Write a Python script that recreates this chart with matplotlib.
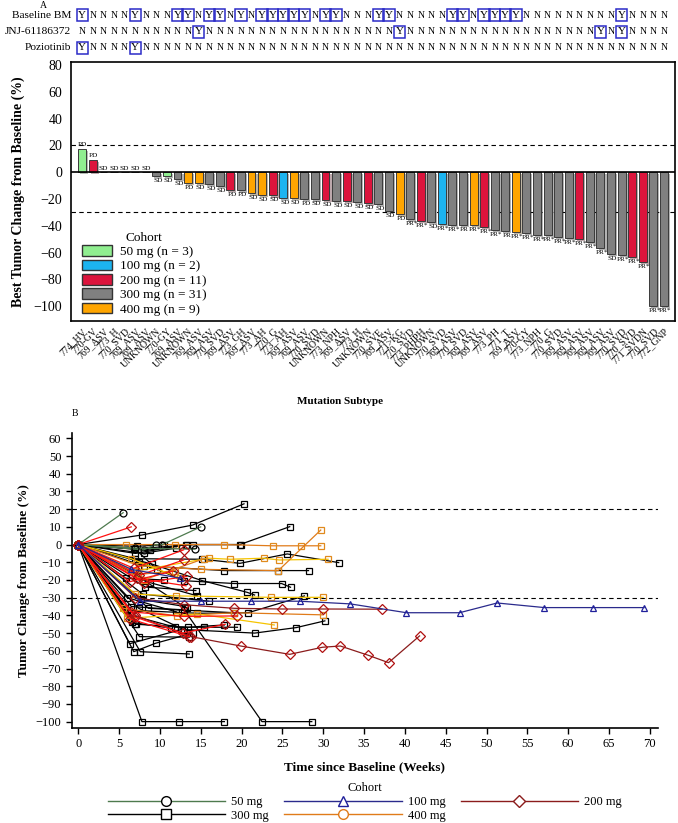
import numpy as np
import matplotlib
matplotlib.use('Agg')
import matplotlib.pyplot as plt
import matplotlib.patheffects as pe
from matplotlib.lines import Line2D
from matplotlib.patches import Patch
from matplotlib.transforms import blended_transform_factory

plt.rcParams['font.family'] = ['Liberation Serif', 'DejaVu Serif']

# ---------------------------------------------------------------------------
# Panel A: waterfall data (one entry per patient, sorted)
# ---------------------------------------------------------------------------
mutation = [
    "774_HV", "770-GV", "769_ASV", "773_H", "770_SVD", "769_ASV", "769_ASV",
    "UNKNOWN", "770-GY", "769_ASV", "UNKNOWN", "769_ASV", "769_ASV", "770_SVD",
    "769_ASV", "773_GH", "769_ASV", "773_AH", "770_G", "773_AH", "769_ASV",
    "769_ASV", "770_SVD", "UNKNOWN", "773_NPH", "769_ASV", "773_H", "UNKNOWN",
    "770_SVE", "769_ASV", "771>KG", "770_SVD", "773_PHPH", "UNKNOWN", "770_SVD",
    "769_ASV", "770_SVD", "769_ASV", "769_ASV", "773_PH", "771_T", "769_ASV",
    "770-GY", "773_NPH", "770_G", "770_SVD", "769_ASV", "769_ASV", "769_ASV",
    "769_ASV", "769_ASV", "770_SVD", "770_SVD", "771_SVDN", "770_SVD", "772_GNP",
]
best_change = [
    17.4, 9.4, 0.5, 0, 0, 0, 0, -2.5, -2.5, -5, -8, -8, -8.5, -10.4,
    -13.4, -13.6, -15.8, -17.1, -17.3, -19, -19, -19.8, -20.3, -21, -21.6,
    -21.6, -22.3, -23.3, -24, -29, -31.5, -35.2, -36.4, -37.2, -38.4, -39.4,
    -39.4, -39.4, -40.6, -43.1, -43.9, -44.6, -45.6, -46.6, -47.1, -48,
    -48.8, -50, -52, -56.2, -60.7, -61.7, -63.2, -66.6, -100, -100,
]
dose = [
    50, 200, 300, 50, 400, 300, 300, 300, 50, 300, 400, 400, 300, 300,
    200, 300, 400, 400, 200, 100, 400, 300, 300, 200, 300, 200, 300, 200,
    300, 300, 400, 300, 200, 300, 100, 300, 300, 400, 200, 300, 300, 400,
    300, 300, 300, 300, 300, 200, 300, 300, 300, 300, 200, 200, 300, 300,
]
response = [
    "PD", "PD", "SD", "SD", "SD", "SD", "SD", "SD", "SD", "SD", "PD", "SD",
    "SD", "SD", "PD", "PD", "SD", "SD", "SD", "SD", "SD", "PD", "SD", "SD",
    "SD", "SD", "SD", "SD", "SD", "SD", "PD", "PR*", "PR*", "SD", "PR*",
    "PR*", "PR", "PR*", "PR*", "PR*", "PR", "PR*", "PR*", "PR*", "PR*",
    "PR*", "PR*", "PR*", "PR*", "PR*", "SD", "PR*", "PR*", "PR*", "PR*", "PR*",
]
# 1-based positions marked "Y"
baseline_bm_yes = [1, 6, 10, 11, 13, 14, 16, 18, 19, 20, 21, 22, 24, 25,
                   29, 30, 36, 37, 39, 40, 41, 42, 52]
jnj_yes = [12, 31, 50, 52]
poziotinib_yes = [1, 6]

cohort_labels = ["50 mg (n = 3)", "100 mg (n = 2)", "200 mg (n = 11)",
                 "300 mg (n = 31)", "400 mg (n = 9)"]

# ---------------------------------------------------------------------------
# Panel B: spider data per cohort (weeks, % change)
# ---------------------------------------------------------------------------
wk_50 = [[0, 5.5], [0, 8, 9.5, 10.3, 15], [0, 7, 14.3]]
chg_50 = [[0, 18], [0, -3, 0, 0, 10], [0, -2, -2.6]]

wk_100 = [[0, 7.6, 15, 21.2, 27.1, 33.3, 40.2, 46.7, 51.3, 57.1, 63, 69.3],
          [0, 6.5, 12.5]]
chg_100 = [[0, -32, -32, -32, -32, -33.5, -38.5, -38.5, -33, -35.6, -35.6, -35.6],
           [0, -14, -19]]

wk_200 = [[0, 6.5], [0, 7, 13, 19.1, 24.9, 30, 37.2],
          [0, 7, 13.8, 19.9, 25.9, 29.9, 32.1, 35.5, 38, 41.8],
          [0, 6.8, 12.9], [0, 7.5, 12.9], [0, 6.3, 11.6], [0, 8, 13.3],
          [0, 7.2, 13.2], [0, 6.5, 12.9, 19.5], [0, 7, 12.8, 18],
          [0, 6.3, 13.6]]
chg_200 = [[0, 10], [0, -30, -34, -36, -36.4, -36.4, -36.5],
           [0, -40, -52, -57.3, -62, -58, -57.3, -62.5, -66.7, -51.6],
           [0, -13.4, -3], [0, -17.3, -8.7], [0, -21, -15], [0, -21.6, -18],
           [0, -19, -23.3], [0, -38, -40.6, -40.3], [0, -41, -50, -45],
           [0, -42, -52]]

wk_300 = [[0, 7.8, 12.3, 17.9], [0, 6.5, 13, 22.5, 28.6], [0, 7.6, 13.6],
          [0, 6.8, 9.5, 14], [0, 7.8, 14, 20.3], [0, 7, 13.2, 19.8, 25.9],
          [0, 7.2, 10.5], [0, 7, 15.2, 19.8, 25.6, 31.9],
          [0, 8, 17.9, 24.5, 28.2], [0, 7.5, 12.9, 19.1, 24.9, 26],
          [0, 9, 15.2, 20.7, 21.6], [0, 8.8, 14.6],
          [0, 6, 14.6, 20.8, 27.7], [0, 8.6, 19.1],
          [0, 7.4, 12.9, 21.6, 26.7, 30.2], [0, 7.5, 13.6],
          [0, 6.5, 11.9, 15.4, 19.5], [0, 7, 13.4, 17.9], [0, 8, 12],
          [0, 7, 9.7], [0, 6.8, 14], [0, 7.3, 13.3], [0, 6, 12],
          [0, 8.2, 14.4], [0, 6.6, 11.4], [0, 7.7, 13.1], [0, 5.8, 10.5],
          [0, 6.3, 12.6], [0, 7.1], [0, 7.9, 16], [0, 8.8, 13.3, 19.9]]
chg_300 = [[0, -100, -100, -100], [0, -35, -37, -100, -100], [0, -60.5, -61.8],
           [0, -60.5, -55.7, -50], [0, 5.4, 11, 23], [0, -5, 0, 0, 10.1],
           [0, -1, 0], [0, -8, -8.3, -10.6, -5.3, -10.2],
           [0, -12, -14.7, -14.7, -14.7], [0, -9.6, -20.4, -22, -22, -24.1],
           [0, -11, -20.4, -27, -28.5], [0, -21.5, -29],
           [0, -37, -38.8, -38.5, -29], [0, -36, -38.5],
           [0, -36, -48, -50, -46.9, -43.1], [0, -52, -52.3],
           [0, -40, -46.7, -46.7, -46.7], [0, -45, -46.7, -45.4], [0, -4.9, -2],
           [0, -2.6, -14.3], [0, -2.5, 0], [0, -18, -36], [0, -30, -38],
           [0, -24, -26], [0, -44, -47.3], [0, -31, -35], [0, -19, -20],
           [0, -56, -48], [0, -45], [0, -28, -32], [0, -3, 0, 0]]

wk_400 = [[0, 5.8, 11.9, 17.9, 23.8, 27.3, 29.7],
          [0, 7, 16, 18.6, 22.7, 24.6, 30.6], [0, 7.5, 15, 24.5, 29.7],
          [0, 7, 12, 23.6, 30], [0, 5.5, 12.1, 19.1, 30], [0, 6, 14.6, 24],
          [0, 7.3, 11.9], [0, 6.5, 12.5], [0, 8, 15.4]]
chg_400 = [[0, 0, 0, 0, -0.7, -0.7, -0.7],
           [0, -15, -7.7, -8.3, -7.7, -8.7, -8.3], [0, -12, -14, -14.7, 8.2],
           [0, -28, -29, -29.8, -29.8], [0, -36, -40.3, -38.5, -39.7],
           [0, -41.6, -39.2, -45.4], [0, -17, -14.7], [0, -8, -19],
           [0, -20, -8]]

# ---------------------------------------------------------------------------
# Styling
# ---------------------------------------------------------------------------
BAR_COL = {50: '#90EE90', 100: '#1CB4F0', 200: '#DC143C',
           300: '#808080', 400: '#FFA500'}
LINE_COL = {50: '#4E7A4E', 100: '#2A2A8C', 200: '#8B1C1C',
            300: '#000000', 400: '#E07B1A'}

W, H = 678, 823
fig = plt.figure(figsize=(W / 100, H / 100), dpi=100)

# ---------------------------------------------------------------------------
# Panel A
# ---------------------------------------------------------------------------
ax_a = fig.add_axes([70.7 / W, 1 - 321 / H, (675 - 70.7) / W, (321 - 61.7) / H])
x = np.arange(len(best_change))
bars = ax_a.bar(x, best_change, width=0.75,
                color=[BAR_COL[d] for d in dose],
                edgecolor='#3a3a3a', linewidth=0.7, zorder=3)
for b in bars:
    b.set_path_effects([pe.SimplePatchShadow(offset=(1.5, -1.5), alpha=0.35),
                        pe.Normal()])

ax_a.axhline(0, color='black', lw=1.2, zorder=4)
for yref in (20, -30):
    ax_a.axhline(yref, color='black', lw=0.8, ls=(0, (4, 3)), zorder=1)

for i, (v, r) in enumerate(zip(best_change, response)):
    if v > 0.5:
        ax_a.text(i, v + 1.2, r, ha='center', va='bottom', fontsize=5.2)
    elif v >= 0:
        ax_a.text(i, 1.2, r, ha='center', va='bottom', fontsize=5.2)
    else:
        ax_a.text(i + 0.15, v - 1.5, r, ha='center', va='top', fontsize=5.2)

ax_a.set_xlim(-1.1, 56.05)
ax_a.set_ylim(-111, 82.5)
ax_a.set_yticks(np.arange(-100, 81, 20))
ax_a.tick_params(axis='y', length=0, labelsize=10, pad=6)
ax_a.set_xticks(x)
ax_a.set_xticklabels(mutation, rotation=45, ha='right', rotation_mode='anchor',
                     fontsize=7)
ax_a.tick_params(axis='x', length=0, pad=4)
for s in ax_a.spines.values():
    s.set_linewidth(1.2)
ax_a.set_ylabel('Best Tumor Change from Baseline (%)', fontsize=10,
                fontweight='bold', labelpad=6)
fig.text(340 / W, 1 - 401 / H, 'Mutation Subtype', ha='center', va='center',
         fontsize=8, fontweight='bold')

leg_a = ax_a.legend(
    [Patch(facecolor=BAR_COL[d], edgecolor='#333333', lw=1.0)
     for d in (50, 100, 200, 300, 400)],
    cohort_labels, title='Cohort', loc='lower left',
    bbox_to_anchor=(0.005, -0.01), frameon=False, fontsize=9.5,
    title_fontsize=9.5, handlelength=2.3, handleheight=0.85,
    labelspacing=0.12, handletextpad=0.6, borderaxespad=0.2)
leg_a._legend_box.align = 'center'

# Y/N annotation rows above panel A
tr = blended_transform_factory(ax_a.transData, fig.transFigure)
rows = [('Baseline BM', baseline_bm_yes, 15),
        ('JNJ-61186372', jnj_yes, 32),
        ('Poziotinib', poziotinib_yes, 48)]
for name, yes, ypx in rows:
    yf = 1 - ypx / H
    fig.text(71 / W, yf, name, ha='right', va='center', fontsize=8.2)
    for i in range(len(best_change)):
        if (i + 1) in yes:
            ax_a.text(i, yf, 'Y', transform=tr, ha='center', va='center',
                      fontsize=8, clip_on=False,
                      bbox=dict(boxstyle='square,pad=0.15', fc='none',
                                ec='#2B2BC8', lw=1.1))
        else:
            ax_a.text(i, yf, 'N', transform=tr, ha='center', va='center',
                      fontsize=7, clip_on=False)
fig.text(43 / W, 1 - 5 / H, 'A', ha='center', va='center', fontsize=7)

# ---------------------------------------------------------------------------
# Panel B
# ---------------------------------------------------------------------------
ax_b = fig.add_axes([71.7 / W, 1 - 728 / H, (658 - 71.7) / W, (728 - 433) / H])
for yref in (20, -30):
    ax_b.axhline(yref, color='black', lw=0.8, ls=(0, (4, 3)), zorder=1)


def draw_cohort(weeks, changes, line_cols, marker, mcol):
    for k, (w, c) in enumerate(zip(weeks, changes)):
        ax_b.plot(w, c, color=line_cols(k, w), lw=0.9, marker=marker, ms=5,
                  mfc='none', mec=mcol, mew=0.9, zorder=3)


draw_cohort(wk_300, chg_300, lambda k, w: 'black', 's', 'black')
draw_cohort(wk_400, chg_400,
            lambda k, w: LINE_COL[400] if k % 2 == 0 else '#F5C400',
            's', '#E08A1E')
draw_cohort(wk_50, chg_50, lambda k, w: LINE_COL[50], 'o', 'black')
draw_cohort(wk_200, chg_200,
            lambda k, w: LINE_COL[200] if max(w) > 20 else '#FF1010',
            'D', '#B01010')
draw_cohort(wk_100, chg_100, lambda k, w: LINE_COL[100], '^', '#1F1F9A')

ax_b.set_xlim(-0.8, 71)
ax_b.set_ylim(-103.6, 63)
ax_b.set_xticks(np.arange(0, 71, 5))
ax_b.set_yticks(np.arange(-100, 61, 10))
ax_b.tick_params(labelsize=9, length=4, width=1)
ax_b.spines['top'].set_visible(False)
ax_b.spines['right'].set_visible(False)
ax_b.spines['left'].set_linewidth(1.2)
ax_b.spines['bottom'].set_linewidth(1.2)
ax_b.set_ylabel('Tumor Change from Baseline (%)', fontsize=9.5,
                fontweight='bold', labelpad=4)
ax_b.set_xlabel('Time since Baseline (Weeks)', fontsize=9.5,
                fontweight='bold', labelpad=8)
fig.text(75 / W, 1 - 413 / H, 'B', ha='center', va='center', fontsize=7)

leg_handles = {
    50: Line2D([0], [0], color=LINE_COL[50], lw=1, marker='o', ms=7,
               mfc='white', mec='black'),
    100: Line2D([0], [0], color=LINE_COL[100], lw=1, marker='^', ms=7,
                mfc='white', mec='#1F1F9A'),
    200: Line2D([0], [0], color=LINE_COL[200], lw=1, marker='D', ms=6,
                mfc='white', mec=LINE_COL[200]),
    300: Line2D([0], [0], color='black', lw=1, marker='s', ms=7,
                mfc='white', mec='black'),
    400: Line2D([0], [0], color=LINE_COL[400], lw=1, marker='o', ms=7,
                mfc='white', mec=LINE_COL[400]),
}
order = [50, 300, 100, 400, 200]
ax_b.legend([leg_handles[d] for d in order], [f'{d} mg' for d in order],
            title='Cohort', ncol=3, loc='upper center',
            bbox_to_anchor=(0.5, -0.145), frameon=False, fontsize=9,
            title_fontsize=9, handlelength=9.4, handletextpad=0.5,
            columnspacing=1.2, labelspacing=0.15, numpoints=1)

fig.savefig('out.png', dpi=100)
